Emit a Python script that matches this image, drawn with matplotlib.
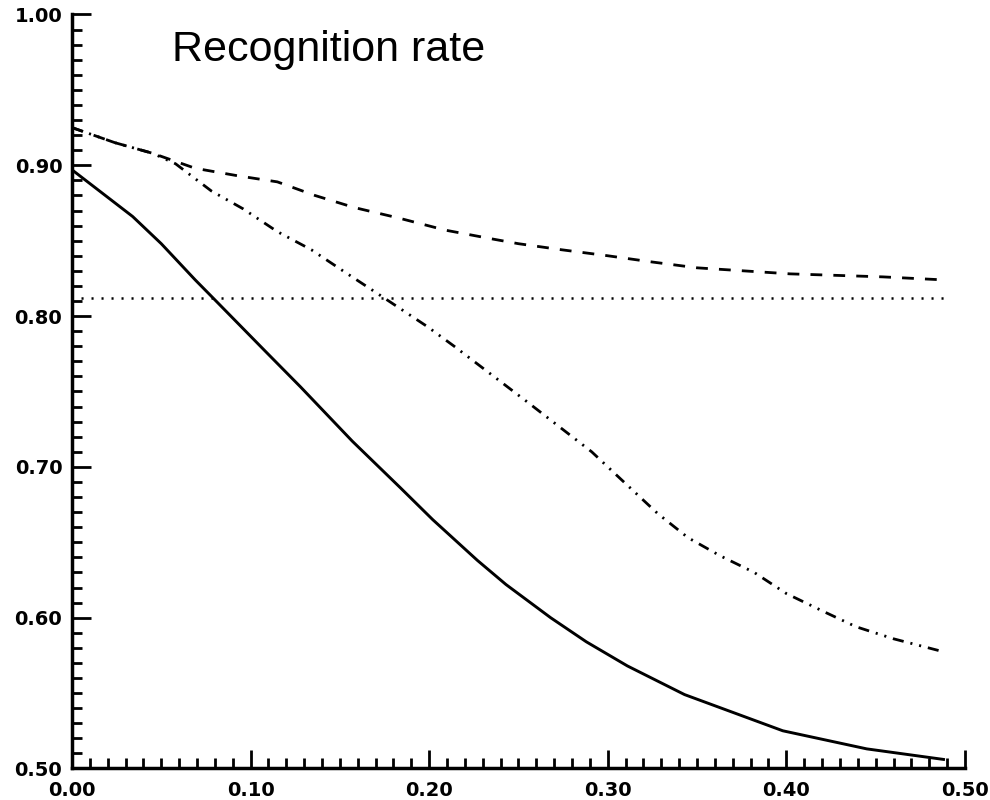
import matplotlib
matplotlib.use("Agg")
import matplotlib.pyplot as plt
from matplotlib.ticker import MultipleLocator

# curve readings (x = fraction, y = recognition rate)
solid_x = [0.0, 0.034, 0.05, 0.069, 0.079, 0.108, 0.128, 0.157, 0.184, 0.202, 0.227, 0.243, 0.268,
           0.288, 0.311, 0.343, 0.398, 0.445, 0.488]
solid_y = [0.897, 0.866, 0.848, 0.824, 0.812, 0.777, 0.753, 0.717, 0.686, 0.665, 0.638, 0.622, 0.600,
           0.584, 0.568, 0.549, 0.525, 0.513, 0.506]

dashdot_x = [0.0, 0.024, 0.045, 0.058, 0.078, 0.096, 0.115, 0.134, 0.153, 0.171, 0.199, 0.214, 0.255,
             0.291, 0.309, 0.328, 0.345, 0.363, 0.382, 0.400, 0.421, 0.439, 0.460, 0.486]
dashdot_y = [0.925, 0.915, 0.908, 0.901, 0.883, 0.871, 0.856, 0.844, 0.829, 0.815, 0.793, 0.780, 0.743,
             0.710, 0.690, 0.669, 0.653, 0.641, 0.630, 0.616, 0.604, 0.594, 0.586, 0.578]

dashed_x = [0.0, 0.024, 0.045, 0.069, 0.093, 0.115, 0.136, 0.158, 0.183, 0.209, 0.236, 0.250, 0.274,
            0.300, 0.324, 0.350, 0.376, 0.402, 0.428, 0.454, 0.488]
dashed_y = [0.925, 0.915, 0.908, 0.898, 0.893, 0.889, 0.880, 0.872, 0.865, 0.857, 0.851, 0.848, 0.844,
            0.840, 0.836, 0.832, 0.830, 0.828, 0.827, 0.826, 0.824]

dotted_x = [0.005, 0.488]
dotted_y = [0.812, 0.812]

title = "Recognition rate"

plt.rcParams['lines.scale_dashes'] = False
fig = plt.figure(figsize=(9.9, 8), dpi=100)
ax = fig.add_axes([0.0727, 0.0394, 0.902, 0.9425])

ax.plot(solid_x, solid_y, color='black', lw=2.1, ls='-')
ax.plot(dashdot_x, dashdot_y, color='black', lw=2.0, dashes=(8, 5, 1.5, 5, 1.5, 5))
ax.plot(dashed_x, dashed_y, color='black', lw=2.0, dashes=(8.5, 8))
ax.plot(dotted_x, dotted_y, color='black', lw=1.8, dashes=(1.5, 5.7))

ax.set_xlim(0, 0.5)
ax.set_ylim(0.5, 1.0)
ax.spines['top'].set_visible(False)
ax.spines['right'].set_visible(False)
ax.spines['left'].set_linewidth(2.5)
ax.spines['bottom'].set_linewidth(2.5)

ax.xaxis.set_major_locator(MultipleLocator(0.1))
ax.xaxis.set_minor_locator(MultipleLocator(0.01))
ax.yaxis.set_major_locator(MultipleLocator(0.1))
ax.yaxis.set_minor_locator(MultipleLocator(0.01))
ax.xaxis.set_major_formatter(lambda v, p: "%.2f" % v)
ax.yaxis.set_major_formatter(lambda v, p: "%.2f" % v)

ax.tick_params(which='major', direction='in', length=13, width=2, labelsize=14)
ax.tick_params(which='minor', direction='in', length=7, width=2)
ax.tick_params(axis='y', which='major', length=14, pad=7)
ax.tick_params(axis='x', which='major', pad=9)
for lab in ax.get_xticklabels() + ax.get_yticklabels():
    lab.set_fontweight('bold')

fig.text(0.174, 0.937, title, fontsize=31, family='Liberation Sans', va='center', ha='left')

fig.savefig("out.png", dpi=100)
